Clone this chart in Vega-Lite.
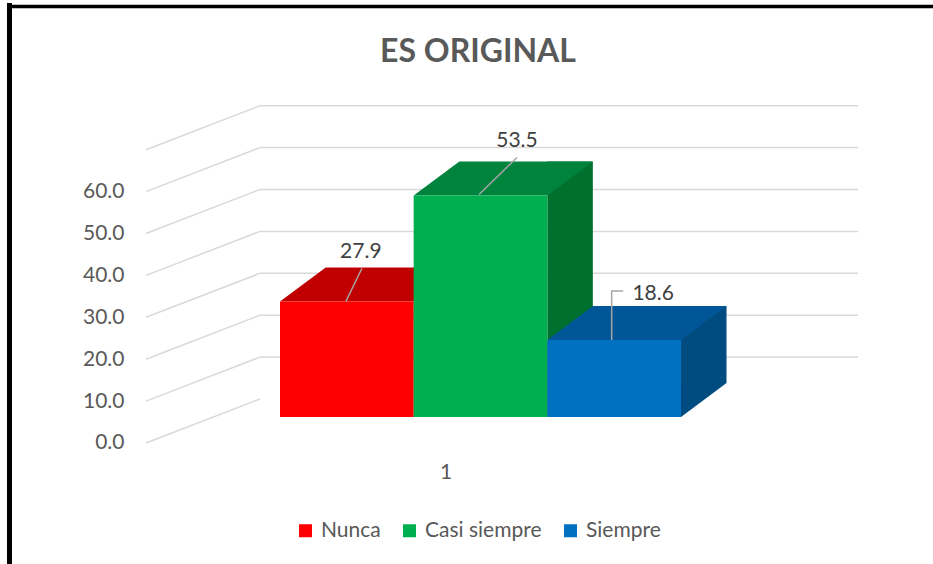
{
  "$schema": "https://vega.github.io/schema/vega-lite/v6.json",
  "width": 712,
  "height": 380,
  "autosize": {"type": "none"},
  "padding": {"left": 146, "top": 80, "right": 75, "bottom": 104},
  "background": "#ffffff",
  "config": {"view": {"stroke": null}, "font": "Lato"},
  "title": {"text": "ES ORIGINAL", "fontSize": 32, "fontWeight": "bold", "color": "#595959", "font": "Lato", "anchor": "middle", "dx": -24, "dy": 68, "offset": 0},
  "layer": [
    {
      "data": {"values": [{"v": 0}, {"v": 10}, {"v": 20}, {"v": 30}, {"v": 40}, {"v": 50}, {"v": 60}, {"v": 70}]},
      "layer": [
        {
          "mark": {"type": "rule", "color": "#d9d9d9", "strokeWidth": 1.5, "y2Offset": -44},
          "encoding": {
            "x": {"datum": 0, "type": "quantitative", "scale": {"domain": [0, 712], "nice": false, "zero": false}, "axis": null},
            "x2": {"datum": 114},
            "y": {"field": "v", "type": "quantitative", "scale": {"domain": [-4.06, 86.63], "nice": false, "zero": false},
                  "axis": {"values": [0, 10, 20, 30, 40, 50, 60], "format": ".1f", "domain": false, "ticks": false, "grid": false, "labelFontSize": 21, "labelColor": "#595959", "labelFont": "Lato", "labelPadding": 22, "title": null}},
            "y2": {"field": "v"}
          }
        },
        {
          "transform": [{"filter": "datum.v > 0"}],
          "mark": {"type": "rule", "color": "#d9d9d9", "strokeWidth": 1.5, "yOffset": -44},
          "encoding": {
            "x": {"datum": 114, "type": "quantitative"},
            "x2": {"datum": 712},
            "y": {"field": "v", "type": "quantitative"}
          }
        },
        {
          "data": {"values": [{"label": "1"}]},
          "mark": {"type": "text", "fontSize": 21, "color": "#595959", "font": "Lato", "baseline": "middle", "align": "center"},
          "encoding": {
            "x": {"datum": 300, "type": "quantitative"},
            "y": {"datum": -7.2, "type": "quantitative"},
            "text": {"field": "label"}
          }
        },
        {
          "data": {"values": [{"side": "left"}]},
          "mark": {"type": "rule", "color": "#000000", "strokeWidth": 5},
          "encoding": {
            "x": {"datum": -136.5, "type": "quantitative"},
            "y": {"datum": 105, "type": "quantitative"},
            "y2": {"datum": -30}
          }
        },
        {
          "data": {"values": [{"side": "top"}]},
          "mark": {"type": "rule", "color": "#000000", "strokeWidth": 3.5},
          "encoding": {
            "x": {"datum": -139, "type": "quantitative"},
            "x2": {"datum": 790},
            "y": {"datum": 104.2, "type": "quantitative"}
          }
        }
      ]
    },
    {
      "data": {"values": [
        {"cat": "Nunca", "value": 27.9},
        {"cat": "Casi siempre", "value": 53.5},
        {"cat": "Siempre", "value": 18.6}
      ]},
      "encoding": {
        "x": {"field": "cat", "type": "nominal", "scale": {"domain": ["Nunca", "Casi siempre", "Siempre"], "range": [134, 535], "paddingInner": 0, "paddingOuter": 0}, "axis": null},
        "y": {"field": "value", "type": "quantitative", "scale": {"domain": [-10.39, 81.4], "nice": false, "zero": false}, "axis": null}
      },
      "layer": [
        {
          "mark": {"type": "bar", "width": 45.5, "xOffset": 89.6, "yOffset": -34, "y2Offset": -34},
          "encoding": {
            "y2": {"datum": 0},
            "fill": {"field": "cat", "type": "nominal", "scale": {"domain": ["Nunca", "Casi siempre", "Siempre"], "range": ["#a00000", "#00702f", "#004c80"]}, "legend": null}
          }
        },
        {
          "mark": {"type": "point", "shape": "M66.85,-34 L66.85,0 L112.35,-34 Z", "size": 4, "filled": true, "opacity": 1, "strokeWidth": 0},
          "encoding": {
            "y": {"datum": 0, "type": "quantitative"},
            "fill": {"field": "cat", "type": "nominal", "scale": {"domain": ["Nunca", "Casi siempre", "Siempre"], "range": ["#a00000", "#00702f", "#004c80"]}, "legend": null}
          }
        },
        {
          "mark": {"type": "point", "shape": "M-66.85,0 L66.85,0 L112.35,-34 L-21.15,-34 Z", "size": 4, "filled": true, "opacity": 1, "strokeWidth": 0},
          "encoding": {
            "fill": {"field": "cat", "type": "nominal", "scale": {"domain": ["Nunca", "Casi siempre", "Siempre"], "range": ["#c00000", "#00843d", "#005696"]}, "legend": null}
          }
        },
        {
          "mark": {"type": "bar"},
          "encoding": {
            "y2": {"datum": 0},
            "color": {"field": "cat", "type": "nominal", "scale": {"domain": ["Nunca", "Casi siempre", "Siempre"], "range": ["#ff0000", "#00b050", "#0070c0"]},
              "legend": {"orient": "none", "legendX": 149, "legendY": 440, "direction": "horizontal", "title": null, "symbolType": "square", "symbolSize": 169, "symbolStrokeWidth": 0, "labelFontSize": 21, "labelColor": "#595959", "labelFont": "Lato", "columnPadding": 18, "labelOffset": 5, "padding": 0}}
          }
        },
        {
          "mark": {"type": "point", "size": 4, "filled": false, "opacity": 1, "stroke": "#a6a6a6", "strokeWidth": 1.5,
                   "shape": {"expr": "datum.cat === 'Nunca' ? 'M-1,0 L15,-33' : datum.cat === 'Casi siempre' ? 'M-1.5,-1 L36.5,-38' : 'M-2.5,0 L-2.5,-49 L9,-49'"}}
        },
        {
          "mark": {"type": "text", "fontSize": 21, "color": "#404040", "font": "Lato", "baseline": "alphabetic", "align": "center",
                   "dx": {"expr": "datum.cat === 'Nunca' ? 14 : datum.cat === 'Casi siempre' ? 36.5 : 39"},
                   "dy": {"expr": "datum.cat === 'Nunca' ? -43 : datum.cat === 'Casi siempre' ? -49 : -40"}},
          "encoding": {
            "text": {"field": "value", "type": "quantitative", "format": ".1f"}
          }
        }
      ],
      "resolve": {"scale": {"fill": "independent"}}
    }
  ],
  "resolve": {"scale": {"x": "independent", "y": "independent"}}
}
